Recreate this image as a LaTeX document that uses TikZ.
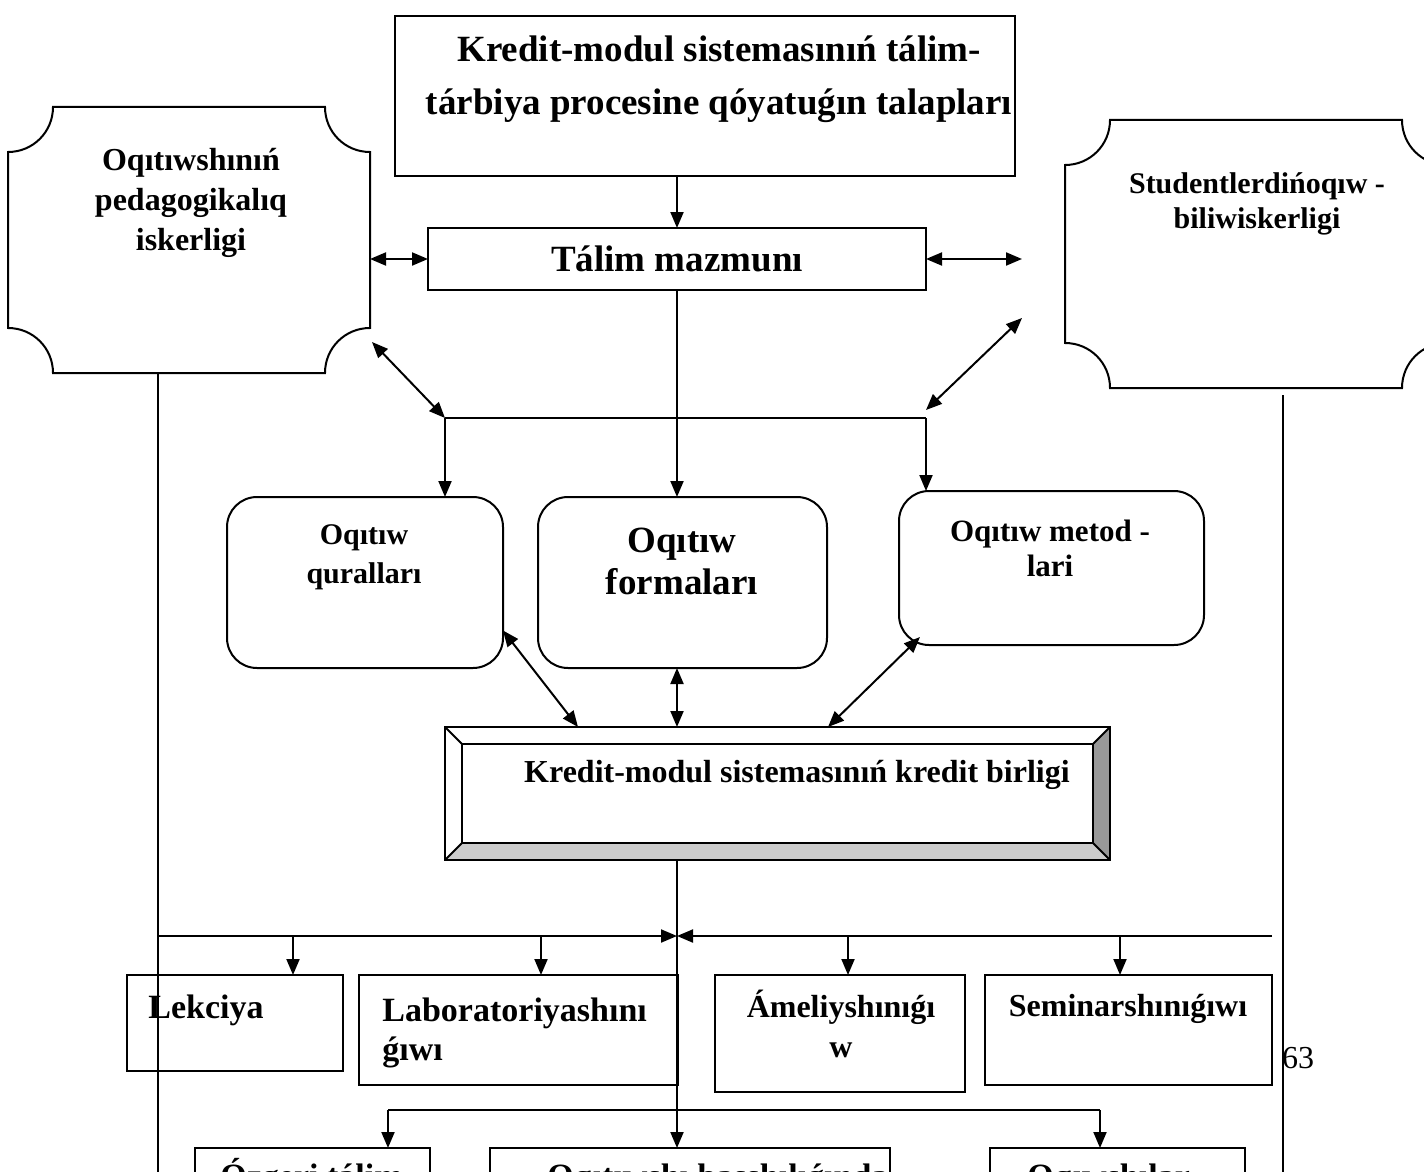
\documentclass[tikz,border=0pt]{standalone}
\usepackage{fontspec}
\setmainfont{Liberation Serif}
\usetikzlibrary{%
  arrows.meta,
  calc,
  positioning
}
\newcommand{\pix}{0.5pt}
\newcommand{\txtsize}[2]{\fontsize{#1}{#2}\selectfont\bfseries}
\definecolor{bevellight}{gray}{0.80}
\definecolor{beveldark}{gray}{0.60}
\tikzset{
  frame/.style={draw, line width=1pt},
  link/.style={line width=1pt},
  sized/.style 2 args={minimum width=#1*\pix, minimum height=#2*\pix},
  hollow/.style={outer sep=0pt, inner sep=0pt},
  plainbox/.style={frame, hollow},
  roundbox/.style={plainbox, rounded corners=15pt},
  txt/.style={inner sep=0pt, align=center},
}
\newcommand{\plaqueframe}[1]{%
  \draw [frame] ($(#1.north west)+(45,0)$) -- ($(#1.north east)+(-45,0)$)
        .. controls +(0,25) and +(-25,0) .. ($(#1.north east)+(0,45)$)
        -- ($(#1.south east)+(0,-45)$)
        .. controls +(-25,0) and +(0,-25) .. ($(#1.south east)+(-45,0)$)
        -- ($(#1.south west)+(45,0)$)
        .. controls +(0,-25) and +(25,0) .. ($(#1.south west)+(0,-45)$)
        -- ($(#1.north west)+(0,45)$)
        .. controls +(25,0) and +(0,25) .. ($(#1.north west)+(45,0)$)
        -- cycle ;
}
\begin{document}
\begin{tikzpicture}[x=\pix, y=-\pix, >={Triangle[length=8pt, width=6.5pt]}]
    \useasboundingbox (0,0) rectangle (1424,1172) ;
    \fill [white] (0,0) rectangle (1424,1172) ;
    \clip (0,0) rectangle (1424,1172) ;

    % upper part
    \node [plainbox, line width=1.25pt, sized={620}{160}] (req) at (705,96) {} ;
    \node [txt, font=\txtsize{18.5}{26.5}] (req-text) at (719,79)
          {Kredit-modul sistemasınıń tálim-\\tárbiya procesine qóyatuǵın talapları} ;
    \node [plainbox, sized={498}{62}, font=\txtsize{18.5}{22}] (mazmun) at (677,259)
          {Tálim mazmunı} ;

    \node [hollow, sized={362}{266}] (teacher) at (189,240) {} ;
    \plaqueframe{teacher}
    \node [txt, font=\txtsize{16}{20}] (teacher-text) at (191,203)
          {Oqıtıwshınıń\\pedagogikalıq\\iskerligi} ;

    \node [hollow, sized={382}{268}] (stud) at (1256,254) {} ;
    \plaqueframe{stud}
    \node [txt, font=\txtsize{15}{17.5}] (stud-text) at (1257,204)
          {Studentlerdińoqıw -\\biliwiskerligi} ;

    \node [roundbox, sized={276}{171}] (tools) at (365,582.5) {} ;
    \node [txt, font=\txtsize{15}{19.5}] (tools-text) at (364,557)
          {Oqıtıw\\quralları} ;
    \node [roundbox, sized={289}{171}] (forms) at (682.5,582.5) {} ;
    \node [txt, font=\txtsize{18.5}{21}] (forms-text) at (682,561)
          {Oqıtıw\\formaları} ;
    \node [roundbox, sized={305}{154}] (metods) at (1051.5,568) {} ;
    \node [txt, font=\txtsize{15.5}{17.5}] (metods-text) at (1050,548)
          {Oqıtıw metod -\\lari} ;

    \coordinate (mgap)    at (1022,259) ;
    \coordinate (tcorner) at ( 372,342) ;
    \coordinate (scorner) at (1022,318) ;
    \coordinate (jl)      at ( 445,418) ;
    \coordinate (jr)      at ( 926,418) ;
    \coordinate (jrtop)   at ( 926,410) ;

    \draw [link, ->] (req.south -| mazmun.north) -- (mazmun.north) ;
    \draw [link, <->] (mazmun.west -| teacher.east) -- (mazmun.west) ;
    \draw [link, <->] (mazmun.east) -- (mgap) ;
    \draw [link, <->] (tcorner) -- (jl) ;
    \draw [link, <->] (jrtop) -- (scorner) ;
    \draw [link] (jl) -- (jr) ;
    \draw [link, ->] (jl) -- (jl |- tools.north) ;
    \draw [link, ->] (jr) -- (jr |- metods.north) ;
    \draw [link, ->] (mazmun.south) -- (mazmun.south |- forms.north) ;

    % credit unit
    \node [hollow, sized={665}{133}] (kredit) at (777.5,793.5) {} ;
    \coordinate (kin-sw) at ($(kredit.south west)+( 17,-17)$) ;
    \coordinate (kin-se) at ($(kredit.south east)+(-17,-17)$) ;
    \coordinate (kin-ne) at ($(kredit.north east)+(-17, 17)$) ;
    \coordinate (kin-nw) at ($(kredit.north west)+( 17, 17)$) ;
    \fill [bevellight] (kredit.south west) -- (kredit.south east)
          -- (kin-se) -- (kin-sw) -- cycle ;
    \fill [beveldark] (kredit.south east) -- (kredit.north east)
          -- (kin-ne) -- (kin-se) -- cycle ;
    \begin{scope}[link]
      \draw (kredit.south west) rectangle (kredit.north east) ;
      \draw (kin-sw) rectangle (kin-ne) ;
      \draw (kredit.south west) -- (kin-sw) ;
      \draw (kredit.south east) -- (kin-se) ;
      \draw (kredit.north east) -- (kin-ne) ;
      \draw (kredit.north west) -- (kin-nw) ;
    \end{scope}
    \node [txt, font=\txtsize{16}{19}] (kredit-text) at (797,775)
          {Kredit-modul sistemasınıń kredit birligi} ;

    \draw [link, <->] ($(tools.east)+(0,48)$) -- ($(kredit.north west)+(133,0)$) ;
    \draw [link, <->] (mazmun.south |- forms.south) -- (mazmun.south |- kredit.north) ;
    \draw [link, <->] ($(metods.south west)+(21,-8)$) -- ($(kredit.north west)+(383,0)$) ;

    % lessons
    \node [plainbox, sized={216}{96}]  (lek) at ( 235,1023)   {} ;
    \node [plainbox, sized={319}{110}] (lab) at ( 518.5,1030) {} ;
    \node [plainbox, sized={250}{117}] (ame) at ( 840,1033.5) {} ;
    \node [plainbox, sized={287}{110}] (sem) at (1128.5,1030) {} ;
    \node [txt, anchor=west, font=\txtsize{17}{20}] (lek-text) at (148,1010) {Lekciya} ;
    \node [txt, align=left, anchor=west, font=\txtsize{17}{19.5}] (lab-text) at (382,1033)
          {Laboratoriyashını\\ǵıwı} ;
    \node [txt, font=\txtsize{16}{20}] (ame-text) at (841,1024) {Ámeliyshınıǵı\\w} ;
    \node [txt, font=\txtsize{16}{20}] (sem-text) at (1128,1009) {Seminarshınıǵıwı} ;
    \node [inner sep=0pt, font=\fontsize{16}{19}\selectfont] (page) at (1298,1058) {63} ;

    \coordinate (hub)   at ( 677,936) ;
    \coordinate (hl)    at ( 158,936) ;
    \coordinate (hr)    at (1272,936) ;
    \coordinate (lfoot) at ( 158,1180) ;
    \coordinate (rfoot) at (1283,1180) ;

    \draw [link] (lfoot |- teacher.south) -- (lfoot) ;
    \draw [link] ($(rfoot |- stud.south)+(0,7)$) -- (rfoot) ;
    \draw [link, ->] (hl) -- (hub) ;
    \draw [link, ->] (hr) -- (hub) ;
    \foreach \x/\target in {293/lek, 541/lab, 848/ame, 1120/sem}
      \draw [link, ->] (\x,936) -- (\x,936 |- \target.north) ;

    % study forms, cut by the page edge
    \node [plainbox, sized={235}{100}] (indep)  at ( 312.5,1198) {} ;
    \node [plainbox, sized={400}{100}] (guided) at ( 690,1198)   {} ;
    \node [plainbox, sized={255}{100}] (pupil)  at (1117.5,1198) {} ;
    \node [inner sep=0pt, anchor=base west, font=\txtsize{17}{20}] (indep-text)  at ( 220,1187) {Ózgeri tálim} ;
    \node [inner sep=0pt, anchor=base west, font=\txtsize{17}{20}] (guided-text) at ( 547,1187) {Oqıtıwshı basshılıǵında} ;
    \node [inner sep=0pt, anchor=base west, font=\txtsize{17}{20}] (pupil-text)  at (1027,1187) {Oqıwshılar} ;

    \coordinate (bl) at ( 388,1110) ;
    \coordinate (br) at (1100,1110) ;
    \draw [link] (bl) -- (br) ;
    \draw [link, ->] (bl) -- (bl |- indep.north) ;
    \draw [link, ->] (br) -- (br |- pupil.north) ;
    \draw [link, ->] (mazmun.south |- kredit.south) -- (mazmun.south |- guided.north) ;
\end{tikzpicture}
\end{document}
